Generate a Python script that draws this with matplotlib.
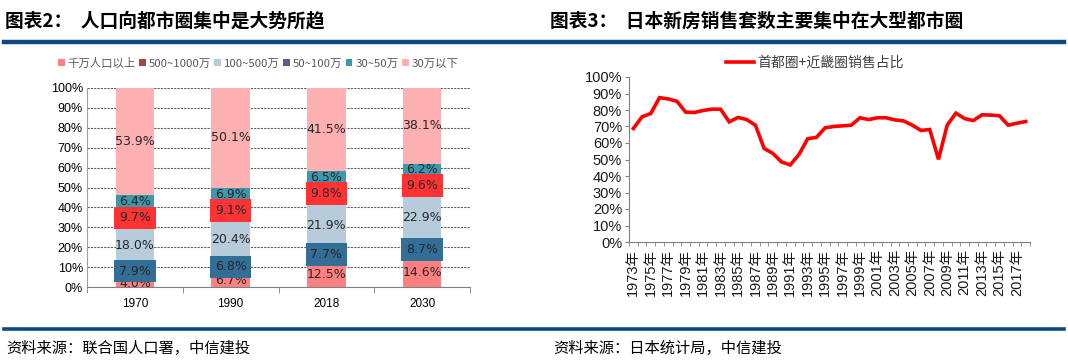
import matplotlib
matplotlib.use("Agg")
import matplotlib.pyplot as plt
from matplotlib.patches import Patch
from matplotlib.lines import Line2D
import numpy as np

plt.rcParams['font.family'] = ['Liberation Sans', 'Noto Sans CJK SC', 'DejaVu Sans']
CJK = ['Noto Sans CJK SC', 'DejaVu Sans']

# ---------------- data ----------------
bar_categories = ['1970', '1990', '2018', '2030']
series_names = ['千万人口以上', '500~1000万', '100~500万', '50~100万', '30~50万', '30万以下']
s_10m_plus = [4.0, 6.7, 12.5, 14.6]
s_5m_10m = [7.9, 6.8, 7.7, 8.7]
s_1m_5m = [18.0, 20.4, 21.9, 22.9]
s_500k_1m = [9.7, 9.1, 9.8, 9.6]
s_300k_500k = [6.4, 6.9, 6.5, 6.2]
s_below_300k = [53.9, 50.1, 41.5, 38.1]

years = list(range(1973, 2019))
share_values = [68.8, 75.9, 77.9, 87.5, 86.7, 85.3, 78.7, 78.5, 79.7, 80.5,
                80.5, 72.8, 75.5, 74.2, 70.8, 56.7, 53.7, 48.5, 46.7, 53.1,
                62.6, 63.4, 69.2, 70.0, 70.4, 70.8, 75.3, 74.2, 75.3, 75.3,
                74.0, 73.4, 70.8, 67.6, 68.2, 50.1, 70.8, 78.1, 74.8, 73.6,
                77.1, 76.9, 76.5, 70.8, 72.0, 73.0]
line_label = '首都圈+近畿圈销售占比'

# ---------------- styles ----------------
seg_colors = ['#FF8080', '#A94442', '#B7CCDB', '#6A5694', '#3E97AC', '#FFB0B0']
label_boxes = [None, '#336E96', None, '#FF3333', None, None]
navy = '#0B4A7F'

W, H = 1068, 362
fig = plt.figure(figsize=(W / 100, H / 100), dpi=100)

def fx(px):
    return px / W

def fy(py):
    return 1 - py / H

# header/footer
fig.text(fx(5), fy(21), '图表2：  人口向都市圈集中是大势所趋', family=CJK,
         fontsize=13.5, fontweight='bold', va='center', ha='left', color='black')
fig.text(fx(550), fy(21), '图表3：  日本新房销售套数主要集中在大型都市圈', family=CJK,
         fontsize=13.5, fontweight='bold', va='center', ha='left', color='black')
fig.add_artist(Line2D([fx(4), fx(1064)], [fy(42), fy(42)], color=navy, lw=3.2))
fig.add_artist(Line2D([fx(4), fx(1064)], [fy(328.5), fy(328.5)], color=navy, lw=2.6))
fig.text(fx(6), fy(348), '资料来源：联合国人口署，中信建投', family=CJK,
         fontsize=11, va='center', ha='left', color='black', style='italic')
fig.text(fx(553), fy(348), '资料来源：日本统计局，中信建投', family=CJK,
         fontsize=11, va='center', ha='left', color='black', style='italic')

# ---------------- left stacked bar chart ----------------
ax1 = fig.add_axes([fx(87), fy(287), fx(470) - fx(87), fy(88) - fy(287)])
series = [s_10m_plus, s_5m_10m, s_1m_5m, s_500k_1m, s_300k_500k, s_below_300k]
x = np.arange(len(bar_categories))
bottom = np.zeros(len(bar_categories))
for i, vals in enumerate(series):
    vals = np.array(vals)
    ax1.bar(x, vals, 0.4, bottom=bottom, color=seg_colors[i], zorder=2)
    for xi, v, b in zip(x, vals, bottom):
        kw = dict(ha='center', va='center', fontsize=9, color='#262626',
                  family='DejaVu Sans', zorder=5 + i)
        if label_boxes[i]:
            kw['bbox'] = dict(boxstyle='square,pad=0.38', fc=label_boxes[i],
                              ec='none')
        ax1.text(xi, b + v / 2, f'{v:.1f}%', **kw)
    bottom = bottom + vals

ax1.set_xlim(-0.5, 3.5)
ax1.set_ylim(0, 100)
ax1.set_yticks(np.arange(0, 101, 10))
ax1.set_yticklabels([f'{t}%' for t in range(0, 101, 10)], fontsize=9)
ax1.set_xticks(x)
ax1.set_xticklabels(bar_categories, fontsize=8.5)
ax1.set_xticks(np.arange(-0.5, 3.6, 1), minor=True)
ax1.tick_params(axis='x', which='major', length=0, pad=8)
ax1.tick_params(axis='x', which='minor', length=4, color='#808080')
ax1.tick_params(axis='y', length=0, pad=3)
ax1.yaxis.grid(True, linestyle=(0, (2, 1)), color='#606060', lw=0.8, zorder=0)
for s in ['top', 'right']:
    ax1.spines[s].set_visible(False)
ax1.spines['left'].set_color('#A0A0A0')
ax1.spines['bottom'].set_color('#808080')

handles = [Patch(facecolor=c, edgecolor='none') for c in seg_colors]
fig.legend(handles, series_names, loc='center', bbox_to_anchor=(fx(258), fy(63)),
           ncol=6, frameon=False, handlelength=0.6, handleheight=0.6,
           handletextpad=0.25, columnspacing=0.3,
           prop={'family': CJK, 'size': 8.2}, labelcolor='#595959')

# ---------------- right line chart ----------------
ax2 = fig.add_axes([fx(629), fy(242), fx(1030) - fx(629), fy(77) - fy(242)])
xi = np.arange(len(years))
ax2.plot(xi, share_values, color='#FF0000', lw=2.6, solid_joinstyle='miter')
ax2.set_xlim(-0.5, len(years) - 0.5)
ax2.set_ylim(0, 100)
ax2.set_yticks(np.arange(0, 101, 10))
ax2.set_yticklabels([f'{t}%' for t in range(0, 101, 10)], fontsize=10.5,
                    color='#1a1a1a')
ax2.set_xticks(xi[::2])
ax2.set_xticklabels([f'{y}年' for y in years[::2]], rotation=90, fontsize=10.5,
                    family=['Liberation Sans', 'Noto Sans CJK SC'], color='#1a1a1a')
ax2.set_xticks(np.arange(-0.5, len(years), 1), minor=True)
ax2.tick_params(axis='x', which='major', length=0, pad=5)
ax2.tick_params(axis='x', which='minor', length=3, color='#808080')
ax2.tick_params(axis='y', length=3, color='#808080', pad=2)
for s in ['top', 'right']:
    ax2.spines[s].set_visible(False)
ax2.spines['left'].set_color('#808080')
ax2.spines['bottom'].set_color('#808080')

fig.legend([Line2D([], [], color='#FF0000', lw=2.6)], [line_label], loc='center',
           bbox_to_anchor=(fx(815), fy(63)), frameon=False, handlelength=2.0,
           handletextpad=0.3, prop={'family': CJK, 'size': 10},
           labelcolor='#404040')

fig.savefig('out.png', dpi=100)
